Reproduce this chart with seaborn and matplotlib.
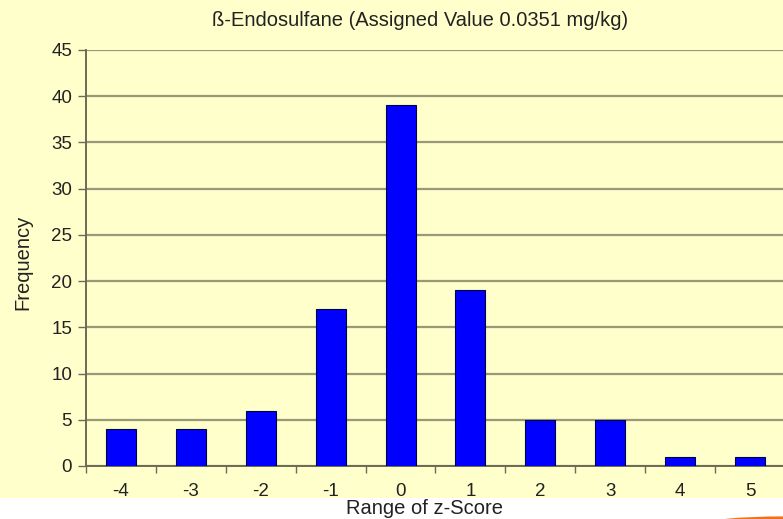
import numpy as np
import pandas as pd
import matplotlib
matplotlib.use("Agg")
import matplotlib.pyplot as plt
import seaborn as sns
from matplotlib.patches import Rectangle, Ellipse

# z-score classes and counts
z_scores = ["-4", "-3", "-2", "-1", "0", "1", "2", "3", "4", "5"]
frequency = [4, 4, 6, 17, 39, 19, 5, 5, 1, 1]
y_ticks = [0, 5, 10, 15, 20, 25, 30, 35, 40, 45]

title = "ß-Endosulfane (Assigned Value 0.0351 mg/kg)"
bg = "#FFFFCC"

sns.set_style("white")
plt.rcParams["font.family"] = ["Liberation Sans", "DejaVu Sans"]

df = pd.DataFrame({"z": z_scores, "freq": frequency})

fig = plt.figure(figsize=(7.83, 5.19), dpi=100, facecolor=bg)
W, H = 783, 519
ax = fig.add_axes([86 / W, 53 / H, 699 / W, 416 / H])
ax.set_facecolor(bg)

sns.barplot(data=df, x="z", y="freq", order=z_scores, color="#0000FF",
            saturation=1, width=0.43, edgecolor="#000044", linewidth=0.8,
            ax=ax, zorder=3)

ax.set_ylim(0, 45)
ax.set_yticks(y_ticks)
ax.set_xlim(-0.5, len(z_scores) - 0.5)
ax.yaxis.grid(True, color="#99997A", linewidth=1.6, zorder=0)
ax.set_axisbelow(True)

for side in ["top", "right"]:
    ax.spines[side].set_visible(False)
for side in ["left", "bottom"]:
    ax.spines[side].set_color("#6B6B55")
    ax.spines[side].set_linewidth(1.4)

ax.tick_params(axis="y", length=6, width=1, color="#6B6B55", pad=4,
               labelsize=13.5, labelcolor="#222222", left=True)
ax.tick_params(axis="x", which="major", length=0, pad=12,
               labelsize=13.5, labelcolor="#222222")
ax.set_xticks(np.arange(-0.5, len(z_scores), 1.0), minor=True)
ax.tick_params(axis="x", which="minor", length=5, width=1,
               color="#6B6B55", bottom=True)

ax.set_xlabel("")
ax.set_ylabel("")

fig.text(420 / W, 1 - 20 / H, title, ha="center", va="center",
         fontsize=14.5, color="#222222")
fig.text(23 / W, 1 - 262 / H, "Frequency", rotation=90, ha="center",
         va="center", fontsize=14.5, color="#222222")

# white strip at the bottom of the slide capture
fig.patches.append(Rectangle((0, 0), 1, 21 / H, transform=fig.transFigure,
                             facecolor="white", edgecolor="none", zorder=0))
fig.patches.append(Ellipse((1.0, -0.01), 0.2, 0.03, transform=fig.transFigure,
                           facecolor="#F07020", edgecolor="none", zorder=1))

fig.text(424 / W, 1 - 508 / H, "Range of z-Score", ha="center", va="center",
         fontsize=14.5, color="#222222", zorder=5)

fig.savefig("out.png", dpi=100, facecolor=bg)
